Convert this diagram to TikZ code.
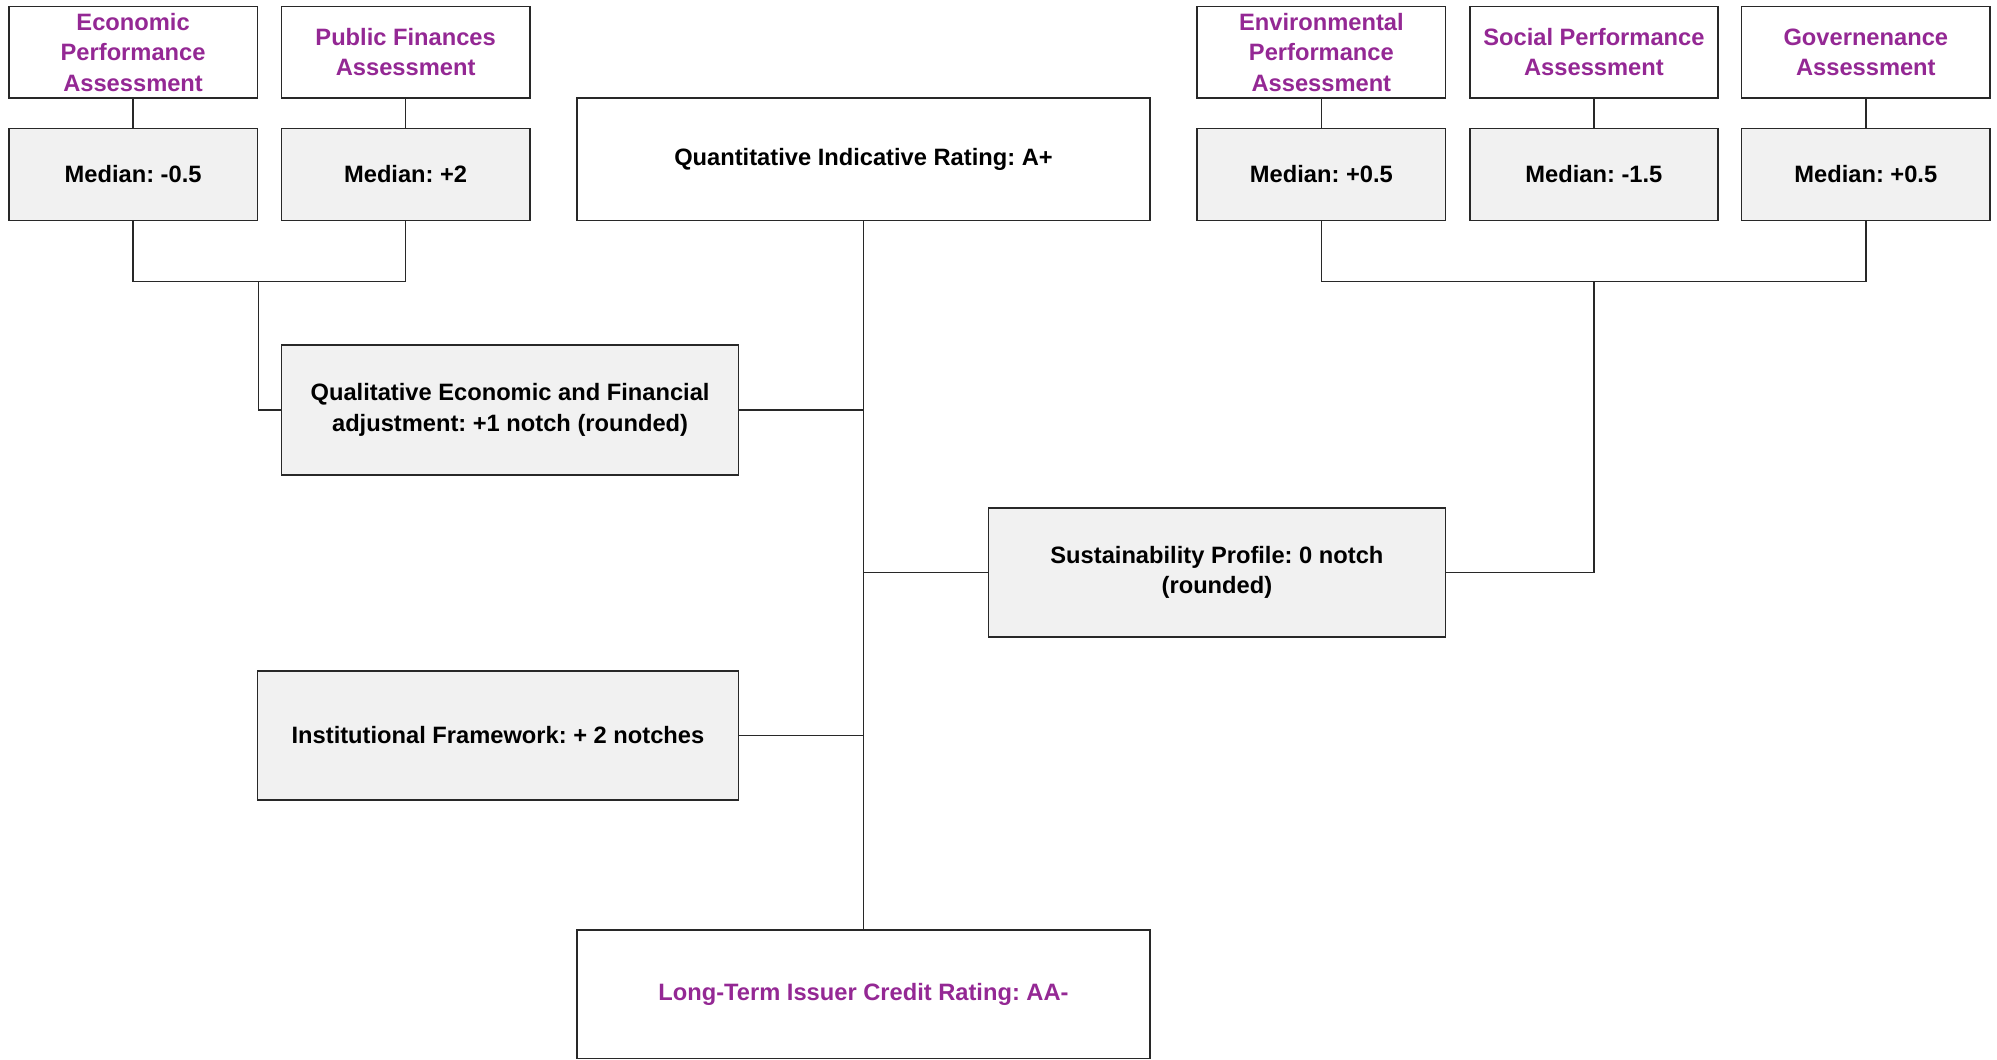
\documentclass[tikz,border=0pt]{standalone}
\usepackage{fontspec}
\setmainfont{Liberation Sans}
\frenchspacing
\definecolor{ratpurple}{RGB}{148,40,148}
\definecolor{boxgray}{RGB}{241,241,241}
\definecolor{lineg}{RGB}{40,40,40}
\begin{document}
\begin{tikzpicture}[x=1pt,y=-1pt,
  box/.style={draw=lineg, line width=1.2pt, rectangle, inner sep=2pt, outer sep=0pt,
    align=center, font=\fontsize{18.6}{24}\selectfont\bfseries},
  whitebox/.style={box, fill=white},
  graybox/.style={box, fill=boxgray, text=black},
  purpletext/.style={text=ratpurple},
  conn/.style={draw=lineg, line width=1.2pt}]
\useasboundingbox (0,0) rectangle (1568,832);
% top left
\node[whitebox, purpletext, minimum width=195pt, minimum height=72pt] (econ) at (104.5,41) {Economic\\Performance\\Assessment};
\node[whitebox, purpletext, minimum width=195pt, minimum height=72pt] (pubfin) at (318.5,41) {Public Finances\\Assessment};
\node[graybox, minimum width=195pt, minimum height=72pt] (med1) at (104.5,137) {Median: -0.5};
\node[graybox, minimum width=195pt, minimum height=72pt] (med2) at (318.5,137) {Median: +2};
% top right
\node[whitebox, purpletext, minimum width=195pt, minimum height=72pt] (env) at (1037.5,41) {Environmental\\Performance\\Assessment};
\node[whitebox, purpletext, minimum width=195pt, minimum height=72pt] (soc) at (1251.5,41) {Social Performance\\Assessment};
\node[whitebox, purpletext, minimum width=195pt, minimum height=72pt] (gov) at (1465,41) {Governenance\\Assessment};
\node[graybox, minimum width=195pt, minimum height=72pt] (med3) at (1037.5,137) {Median: +0.5};
\node[graybox, minimum width=195pt, minimum height=72pt] (med4) at (1251.5,137) {Median: -1.5};
\node[graybox, minimum width=195pt, minimum height=72pt] (med5) at (1465,137) {Median: +0.5};
% centre
\node[whitebox, minimum width=450pt, minimum height=96pt] (quant) at (678,125) {Quantitative Indicative Rating: A+};
\node[graybox, minimum width=359pt, minimum height=102pt] (qual) at (400.5,322) {Qualitative Economic and Financial\\adjustment: +1 notch (rounded)};
\node[graybox, minimum width=359pt, minimum height=101pt] (sust) at (955.5,449.5) {Sustainability Profile: 0 notch\\(rounded)};
\node[graybox, minimum width=378pt, minimum height=101pt] (inst) at (391,577.5) {Institutional Framework: + 2 notches};
\node[whitebox, purpletext, minimum width=450pt, minimum height=101pt] (lt) at (678,780.5) {Long-Term Issuer Credit Rating: AA-};
% junctions
\coordinate (jL) at (203,221);
\coordinate (jR) at (1251.5,221);
% connectors
\draw[conn] (econ.south) -- (med1.north);
\draw[conn] (pubfin.south) -- (med2.north);
\draw[conn] (env.south) -- (med3.north);
\draw[conn] (soc.south) -- (med4.north);
\draw[conn] (gov.south) -- (med5.north);
\draw[conn] (med1.south) |- (jL);
\draw[conn] (jL) -| (med2.south);
\draw[conn] (jL) |- (qual.west);
\draw[conn] (med3.south) |- (jR);
\draw[conn] (jR) -| (med5.south);
\draw[conn] (sust.east) -| (jR);
\draw[conn] (quant.south) -- (lt.north);
\draw[conn] (qual.east) -- (qual.east -| quant.south);
\draw[conn] (sust.west) -- (sust.west -| quant.south);
\draw[conn] (inst.east) -- (inst.east -| quant.south);
\end{tikzpicture}
\end{document}
